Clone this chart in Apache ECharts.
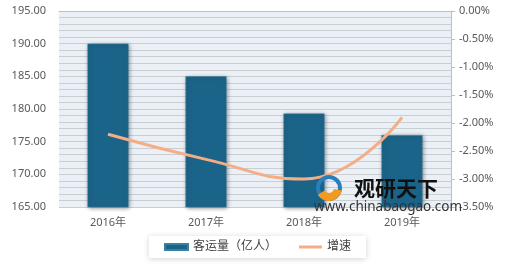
<!DOCTYPE html>
<html><head><meta charset="utf-8">
<script src="https://cdn.jsdelivr.net/npm/echarts@6/dist/echarts.min.js"></script>
<style>html,body{margin:0;padding:0;background:#fff}#c{width:520px;height:264px}</style>
</head><body><div id="c"></div>
<script>
var categories = ['2016年', '2017年', '2018年', '2019年'];
var volume = [190.0, 185.0, 179.3, 176.0];
var growth = [-2.2, -2.65, -3.0, -1.9];
var leftTicks = [165, 195, 5];
var rightTicks = [-3.5, 0, 0.5];

var font = '"Noto Sans", "Noto Sans CJK SC", sans-serif';
var chart = echarts.init(document.getElementById('c'));
chart.setOption({
  animation: false,
  grid: {left: 59, right: 69, top: 11, bottom: 57, show: true, backgroundColor: '#eaf0f6', borderWidth: 0},
  legend: {
    left: 149, top: 236, padding: [5, 15, 5, 15], itemGap: 22,
    itemWidth: 23, itemHeight: 6,
    backgroundColor: '#fff', shadowBlur: 6, shadowColor: 'rgba(0,0,0,0.18)', shadowOffsetY: 1,
    textStyle: {color: '#404040', fontSize: 12, fontFamily: font},
    data: [{name: '客运量（亿人）', icon: 'rect'}, {name: '增速', icon: 'path://M0,0 L23,0 L23,3 L0,3 Z', itemStyle: {color: '#f4ad85'}}]
  },
  xAxis: {
    type: 'category', data: categories,
    axisLine: {lineStyle: {color: '#bfbfbf'}}, axisTick: {show: false},
    axisLabel: {color: '#595959', fontSize: 11, fontFamily: font, margin: 10}
  },
  yAxis: [{
    type: 'value', min: leftTicks[0], max: leftTicks[1], interval: leftTicks[2],
    axisLine: {show: false}, axisTick: {show: false},
    axisLabel: {color: '#595959', fontSize: 11, fontFamily: font, margin: 13, formatter: function (v) { return v.toFixed(2); }},
    splitLine: {lineStyle: {color: '#c9ced3'}},
    minorTick: {show: false, splitNumber: 5},
    minorSplitLine: {show: true, lineStyle: {color: '#c9ced3'}}
  }, {
    type: 'value', min: rightTicks[0], max: rightTicks[1], interval: rightTicks[2],
    position: 'right',
    axisLine: {show: true, lineStyle: {color: '#bfbfbf'}},
    axisTick: {show: true, length: 4, lineStyle: {color: '#bfbfbf'}},
    axisLabel: {color: '#595959', fontSize: 11, fontFamily: font, margin: 8, formatter: function (v) { return v.toFixed(2) + '%'; }},
    splitLine: {show: false}
  }],
  series: [{
    name: '客运量（亿人）', type: 'bar', data: volume, barWidth: 41,
    itemStyle: {color: '#1b6489', shadowBlur: 4, shadowColor: 'rgba(0,0,0,0.45)', shadowOffsetX: 1, shadowOffsetY: 1, borderColor: '#3d7fa0', borderWidth: 0.5}
  }, {
    name: '增速', type: 'line', yAxisIndex: 1, data: growth, smooth: true,
    symbol: 'none', lineStyle: {color: '#f4ad85', width: 3}, itemStyle: {color: '#f4ad85'}
  }],
  graphic: [
    {type: 'circle', z: 100, shape: {cx: 329, cy: 188, r: 11}, style: {fill: 'none', stroke: '#2a7fb8', lineWidth: 4}},
    {type: 'sector', z: 101, shape: {cx: 329, cy: 188, r: 13, r0: 5, startAngle: 0.2, endAngle: 2.6}, style: {fill: '#f39a1e'}},
    {type: 'text', z: 100, left: 354, top: 178, style: {text: '观研天下', fill: '#111', font: 'bold 21px "Noto Sans CJK SC"'}},
    {type: 'text', z: 100, left: 314, top: 200, style: {text: 'www.chinabaogao.com', fill: '#333', font: '13.5px "Noto Sans", sans-serif'}}
  ]
});
</script></body></html>
